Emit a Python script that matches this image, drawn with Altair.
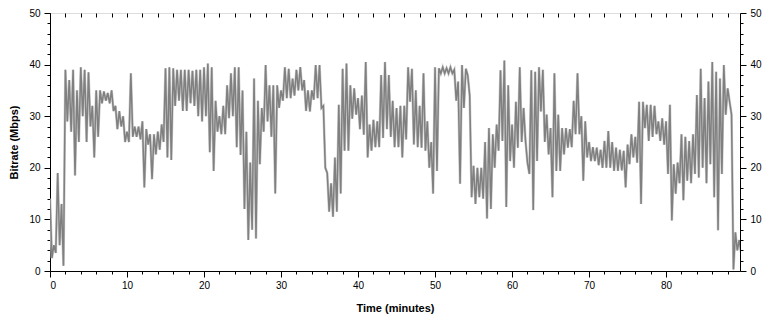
import altair as alt
import pandas as pd

# bin start times (minutes), 0.5-minute bins
minutes = [i * 0.5 for i in range(180)]

# per-bin minimum bitrate (Mbps)
low = [
    2.5, 3.5, 5, 1, 29, 27, 18.5, 25, 30, 25,
    28, 22, 26, 32.5, 33, 32.5, 31, 27.5, 28, 25,
    25, 26, 26, 25.5, 16.2, 24.5, 17.8, 22.6, 23.5, 25,
    22, 21.5, 32, 33, 31, 31, 32.5, 32, 30, 29,
    30, 23, 19.4, 27, 26.5, 26.5, 29.6, 30, 24, 22.5,
    12, 6, 8, 6.3, 20.7, 27, 29, 26, 15, 31.6,
    33, 33.5, 33.5, 34, 35, 35, 31, 30.9, 33.2, 33.5,
    31.6, 20, 11.5, 10.5, 11.5, 15, 23.3, 23.3, 29.5, 30.3,
    27.5, 26.4, 22, 23.3, 24, 24, 25.8, 27.5, 26, 24,
    24, 22, 25.5, 32.8, 24.5, 24, 23.9, 23.3, 20, 15,
    19.4, 38.3, 38.3, 38.3, 38.3, 33, 16.9, 31.6, 37.9, 14.3,
    13, 14.3, 14, 10.2, 12, 20, 23.3, 25.2, 12.4, 21.3,
    20, 23.9, 25, 25.2, 18.8, 11.8, 21.3, 30.9, 25, 22.6,
    14.3, 19.4, 19.4, 22.6, 23.9, 24, 26.5, 26.5, 17.5, 22,
    21.3, 21.3, 20.5, 20, 20, 20, 19.4, 19.4, 19.5, 16.2,
    20.7, 22, 21, 13, 27.7, 25.2, 26, 26.5, 25.2, 24.5,
    18.8, 9.8, 15, 17, 13.7, 17.5, 17, 18.8, 18.1, 20,
    17, 20.7, 14.3, 7.9, 18.8, 30.3, 32.8, 0.3, 4, 3.5,
]

# per-bin maximum bitrate (Mbps)
high = [
    14, 5, 19, 13, 39, 37, 39, 35, 39.5, 39,
    38.5, 32, 35, 35, 34.8, 34.5, 35, 32, 31, 30,
    27, 38.3, 28, 28, 29, 27.5, 26.5, 26.5, 27, 28.4,
    39.3, 39.5, 39.3, 39, 39, 39, 39, 38.8, 39, 39,
    39.5, 40.2, 39.5, 33, 30, 32, 36, 38.3, 39.5, 39.5,
    35, 27, 21, 37.3, 33, 31.6, 39.9, 36, 36, 36,
    35, 39.5, 39.2, 37.3, 39, 39.5, 37, 35, 35, 39.9,
    39.9, 32, 19, 17, 22, 32.2, 39.2, 40.2, 36, 35.4,
    33.5, 34, 40.5, 28.4, 29.3, 29, 38, 40.5, 38, 33,
    31.6, 32, 32, 39.5, 39.2, 35, 32, 38.3, 29, 25,
    39.5, 39.3, 39.5, 39.3, 39.5, 39, 36.7, 39.9, 39.2, 34,
    20.4, 20, 20, 25, 27.7, 26.5, 28.4, 38.9, 40.8, 36,
    28.4, 32.8, 39.5, 31.6, 21, 38.9, 38.6, 39.5, 39, 30.3,
    27.7, 38.3, 30.3, 27.7, 27.7, 27.5, 33, 38.3, 30, 29,
    25, 24, 23.9, 23.5, 25.2, 27.1, 25, 23.9, 23.5, 23.3,
    24.5, 26.5, 26, 32.8, 32.8, 32.2, 32.2, 32, 29, 29.6,
    29, 32.2, 20.7, 21, 26.5, 26, 25.2, 26.5, 34.1, 39.2,
    33.5, 36.7, 40.5, 38.6, 37.3, 39.9, 35.4, 30.3, 7.5, 6,
]

x_ticks = list(range(0, 90, 2))
y_ticks = list(range(0, 51, 2))

# each bin is drawn as a max -> min swing of its two read values
rows = []
k = 0
for t, lo, hi in zip(minutes, low, high):
    rows.append({"t": t, "v": hi, "o": k})
    k += 1
    rows.append({"t": t + 0.25, "v": lo, "o": k})
    k += 1
df = pd.DataFrame(rows)

FONT = "Liberation Sans"
major = {"condition": {"test": "datum.value % 10 === 0", "value": 6}, "value": 3}

xscale = alt.Scale(domain=[0, 89.6], nice=False, zero=False)
yscale = alt.Scale(domain=[0, 50], nice=False)

base = alt.Chart(df)

halo = base.mark_line(color="#cccccc", strokeWidth=2.6, clip=True).encode(
    x=alt.X("t:Q", scale=xscale,
            axis=alt.Axis(orient="bottom", title="Time (minutes)", values=x_ticks,
                          labelExpr="datum.value % 10 === 0 ? datum.label : ''",
                          tickSize=major, labelPadding=3, titlePadding=12,
                          grid=False, domainColor="black", tickColor="black")),
    y=alt.Y("v:Q", scale=yscale,
            axis=alt.Axis(orient="left", title="Bitrate (Mbps)", values=y_ticks,
                          labelExpr="datum.value % 10 === 0 ? datum.label : ''",
                          tickSize=major, labelPadding=4, titlePadding=9,
                          grid=False, domainColor="black", tickColor="black")),
    order="o:Q",
)

core = base.mark_line(color="#808080", strokeWidth=1.5, clip=True).encode(
    x=alt.X("t:Q", scale=xscale,
            axis=alt.Axis(orient="top", title=None, values=x_ticks, labels=False,
                          domain=False, tickSize=4, offset=-4, grid=False,
                          tickColor="black")),
    y=alt.Y("v:Q", scale=yscale,
            axis=alt.Axis(orient="right", title=None, values=y_ticks,
                          labelExpr="datum.value % 10 === 0 ? datum.label : ''",
                          tickSize=major, labelPadding=4, grid=False,
                          domainColor="black", tickColor="black")),
    order="o:Q",
)

chart = alt.layer(halo, core).resolve_axis(x="independent", y="independent").properties(
    width=690,
    height=258,
    autosize=alt.AutoSizeParams(type="none"),
    padding={"left": 42, "top": 5, "right": 24, "bottom": 43},
).configure_view(stroke="black", strokeWidth=1).configure_axis(
    labelFont=FONT, labelFontSize=12, labelColor="black",
    titleFont=FONT, titleFontSize=12, titleFontWeight="bold", titleColor="black",
).configure(background="white")

chart.save("out.html", embed_options={"renderer": "svg", "actions": False})
